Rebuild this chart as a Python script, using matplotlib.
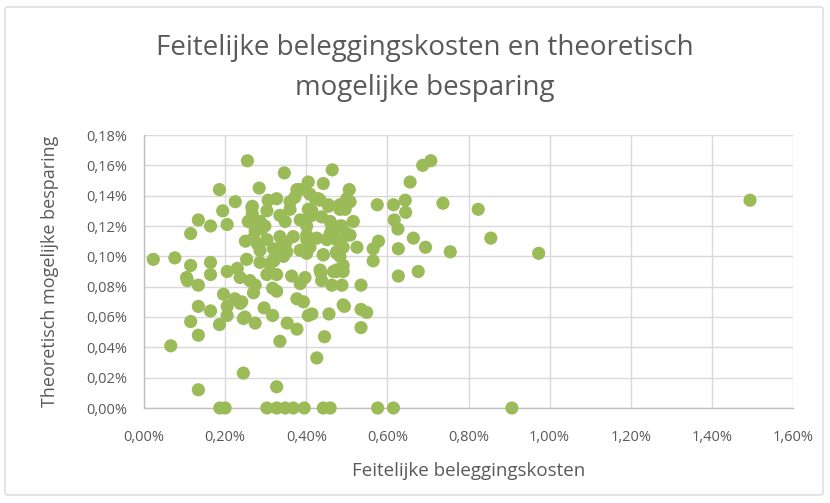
import matplotlib
matplotlib.use("Agg")
import matplotlib.pyplot as plt
from matplotlib.ticker import FuncFormatter
from matplotlib.patches import FancyBboxPatch

plt.rcParams['font.family'] = ['Open Sans', 'DejaVu Sans']

title = "Feitelijke beleggingskosten en theoretisch\nmogelijke besparing"
x_label = "Feitelijke beleggingskosten"
y_label = "Theoretisch mogelijke besparing"

# Feitelijke beleggingskosten (%)
kosten = [
    0.023, 0.076, 0.066, 0.115, 0.134, 0.164, 0.205, 0.115, 0.164, 0.205,
    0.105, 0.164, 0.107, 0.134, 0.134, 0.164, 0.115, 0.186, 0.134, 0.134,
    0.186, 0.194, 0.225, 0.255, 0.346, 0.284, 0.266, 0.205, 0.205, 0.196,
    0.224, 0.237, 0.245, 0.274, 0.245, 0.327, 0.335, 0.296, 0.317, 0.353,
    0.377, 0.405, 0.377, 0.393, 0.270, 0.317, 0.327, 0.237, 0.261, 0.274,
    0.303, 0.327, 0.364, 0.385, 0.397, 0.436, 0.438, 0.475, 0.463, 0.488,
    0.535, 0.414, 0.456, 0.494, 0.535, 0.549, 0.535, 0.445, 0.426,
    0.187, 0.200, 0.303, 0.327, 0.348, 0.368, 0.395, 0.442, 0.459, 0.576,
    0.615, 0.907,
    0.464, 0.405, 0.442, 0.506, 0.377, 0.687, 0.707, 0.656, 0.575, 0.615,
    0.644, 0.645, 0.737, 0.824, 0.617, 0.626, 0.516, 0.664, 0.855, 0.578,
    0.565, 0.627, 0.694, 0.755, 0.973, 0.565, 0.525, 0.627, 0.676, 1.494,
    0.306, 0.327, 0.267, 0.267, 0.455, 0.483, 0.500, 0.508, 0.434, 0.422,
    0.372, 0.360, 0.360, 0.405, 0.414, 0.335, 0.348, 0.303, 0.286, 0.298,
    0.257, 0.274, 0.459, 0.483, 0.500, 0.467, 0.385, 0.401, 0.442, 0.475,
    0.491, 0.241, 0.249, 0.491,
    0.270, 0.303, 0.335, 0.368, 0.401, 0.426, 0.459, 0.500, 0.286, 0.319,
    0.352, 0.385, 0.409, 0.475, 0.483, 0.253, 0.286, 0.319, 0.344,
    0.385, 0.409, 0.430, 0.455, 0.483, 0.496, 0.414, 0.397, 0.438, 0.463,
    0.488, 0.508, 0.401, 0.451, 0.475, 0.491, 0.442, 0.475, 0.401, 0.434,
    0.467, 0.491, 0.280, 0.290, 0.310, 0.350, 0.230, 0.250, 0.320, 0.340,
]

# Theoretisch mogelijke besparing (%)
besparing = [
    0.098, 0.099, 0.041, 0.115, 0.124, 0.120, 0.121, 0.094, 0.096, 0.090,
    0.086, 0.088, 0.084, 0.081, 0.067, 0.064, 0.057, 0.055, 0.048, 0.012,
    0.144, 0.130, 0.136, 0.163, 0.155, 0.145, 0.132, 0.067, 0.061, 0.075,
    0.072, 0.069, 0.059, 0.056, 0.023, 0.014, 0.044, 0.066, 0.061, 0.056,
    0.052, 0.061, 0.072, 0.070, 0.076, 0.079, 0.077, 0.086, 0.084, 0.081,
    0.088, 0.088, 0.087, 0.082, 0.086, 0.089, 0.084, 0.090, 0.081, 0.081,
    0.081, 0.062, 0.062, 0.067, 0.065, 0.063, 0.053, 0.047, 0.033,
    0.000, 0.000, 0.000, 0.000, 0.000, 0.000, 0.000, 0.000, 0.000, 0.000,
    0.000, 0.000,
    0.157, 0.149, 0.148, 0.144, 0.144, 0.160, 0.163, 0.149, 0.134, 0.134,
    0.137, 0.129, 0.135, 0.131, 0.124, 0.118, 0.123, 0.112, 0.112, 0.110,
    0.105, 0.105, 0.106, 0.103, 0.102, 0.097, 0.106, 0.087, 0.090, 0.137,
    0.137, 0.138, 0.133, 0.128, 0.133, 0.131, 0.138, 0.136, 0.137, 0.138,
    0.139, 0.136, 0.131, 0.131, 0.127, 0.127, 0.123, 0.130, 0.123, 0.120,
    0.123, 0.117, 0.123, 0.120, 0.115, 0.115, 0.124, 0.120, 0.101, 0.091,
    0.094, 0.070, 0.060, 0.068,
    0.112, 0.111, 0.113, 0.113, 0.114, 0.112, 0.115, 0.114, 0.104, 0.105,
    0.103, 0.104, 0.106, 0.103, 0.100, 0.098, 0.096, 0.098, 0.100,
    0.144, 0.141, 0.138, 0.134, 0.134, 0.131, 0.130, 0.124, 0.126, 0.119,
    0.120, 0.114, 0.111, 0.111, 0.111, 0.106, 0.101, 0.102, 0.102, 0.091,
    0.090, 0.090, 0.108, 0.118, 0.095, 0.109, 0.092, 0.110, 0.097, 0.107,
]

x_ticks = [0.0, 0.2, 0.4, 0.6, 0.8, 1.0, 1.2, 1.4, 1.6]
y_ticks = [0.00, 0.02, 0.04, 0.06, 0.08, 0.10, 0.12, 0.14, 0.16, 0.18]

fig = plt.figure(figsize=(8.30, 5.03), dpi=100)
ax = fig.add_axes([144/830, 1-408/503, (793-144)/830, (408-135)/503])

# chart border
fig.patches.append(FancyBboxPatch((5/830, 8/503), 818/830, 488/503,
                                  boxstyle="round,pad=0,rounding_size=0.004",
                                  transform=fig.transFigure, fill=False,
                                  edgecolor="#d9d9d9", linewidth=1.0))

ax.scatter(kosten, besparing, s=90, color="#9bbb59", edgecolors="none",
           zorder=3, clip_on=False)

ax.set_xlim(0, 1.6)
ax.set_ylim(0, 0.18)
ax.set_xticks(x_ticks)
ax.set_yticks(y_ticks)
ax.xaxis.set_major_formatter(FuncFormatter(lambda v, p: f"{v:.2f}%".replace('.', ',')))
ax.yaxis.set_major_formatter(FuncFormatter(lambda v, p: f"{v:.2f}%".replace('.', ',')))
ax.grid(True, color="#d9d9d9", linewidth=1.0, zorder=0)
ax.set_axisbelow(True)
for s in ["top", "right"]:
    ax.spines[s].set_visible(False)
for s in ["left", "bottom"]:
    ax.spines[s].set_color("#bfbfbf")
    ax.spines[s].set_linewidth(1.0)
ax.tick_params(axis="y", length=0, labelsize=10.5, colors="#595959", pad=12)
ax.tick_params(axis="x", length=0, labelsize=10.5, colors="#595959", pad=16)

ax.set_xlabel(x_label, fontsize=13.5, color="#595959", labelpad=12)
ax.set_ylabel(y_label, fontsize=13, color="#595959", labelpad=20)

fig.text(0.512, 1-68/503, title, ha="center", va="center", fontsize=20,
         color="#595959", linespacing=1.55)

fig.savefig("out.png", dpi=100)
